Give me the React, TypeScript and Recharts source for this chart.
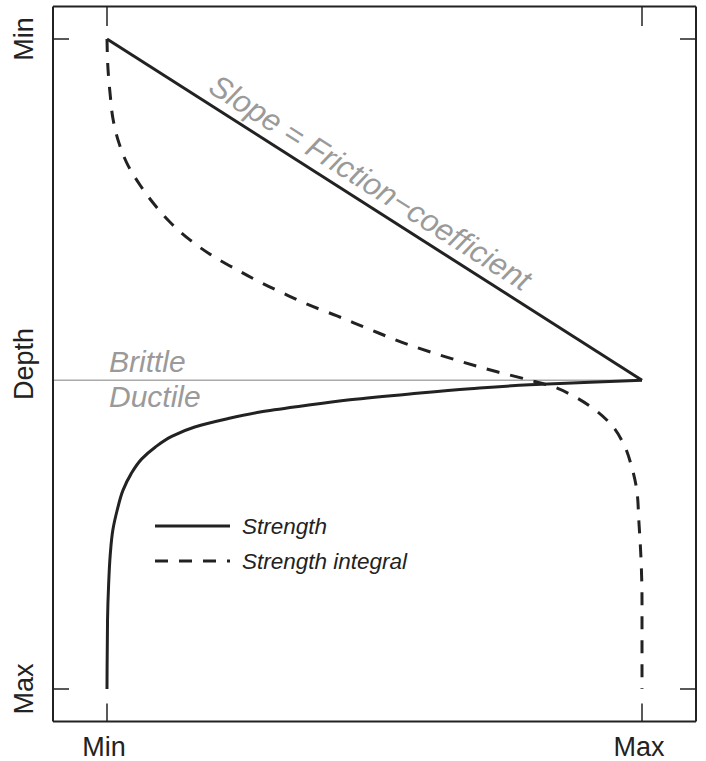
import React from "react";
import {
  LineChart,
  Line,
  XAxis,
  YAxis,
  ReferenceLine,
  ReferenceDot,
  Legend,
} from "recharts";

// ---- data (x: strength 0=Min..1=Max, y: depth 0=Min..1=Max) ----
const BD_DEPTH = 0.525; // brittle–ductile transition depth

const brittleStrength = [
  { x: 0, y: 0 },
  { x: 1, y: 0.525 },
];

const ductileStrength = [
  { x: 1, y: 0.525 },
  { x: 0.903, y: 0.528 },
  { x: 0.79, y: 0.532 },
  { x: 0.679, y: 0.538 },
  { x: 0.566, y: 0.546 },
  { x: 0.454, y: 0.555 },
  { x: 0.361, y: 0.565 },
  { x: 0.286, y: 0.574 },
  { x: 0.221, y: 0.585 },
  { x: 0.164, y: 0.597 },
  { x: 0.122, y: 0.611 },
  { x: 0.09, y: 0.628 },
  { x: 0.065, y: 0.646 },
  { x: 0.045, y: 0.669 },
  { x: 0.03, y: 0.694 },
  { x: 0.019, y: 0.725 },
  { x: 0.011, y: 0.755 },
  { x: 0.006, y: 0.794 },
  { x: 0.003, y: 0.84 },
  { x: 0.001, y: 0.894 },
  { x: 0, y: 1 },
];

const strengthIntegral = [
  { x: 0, y: 0 },
  { x: 0.002, y: 0.048 },
  { x: 0.006, y: 0.086 },
  { x: 0.011, y: 0.122 },
  { x: 0.022, y: 0.159 },
  { x: 0.039, y: 0.194 },
  { x: 0.062, y: 0.225 },
  { x: 0.086, y: 0.252 },
  { x: 0.118, y: 0.282 },
  { x: 0.155, y: 0.309 },
  { x: 0.198, y: 0.334 },
  { x: 0.243, y: 0.355 },
  { x: 0.286, y: 0.374 },
  { x: 0.329, y: 0.391 },
  { x: 0.374, y: 0.408 },
  { x: 0.43, y: 0.426 },
  { x: 0.486, y: 0.445 },
  { x: 0.566, y: 0.471 },
  { x: 0.641, y: 0.491 },
  { x: 0.729, y: 0.512 },
  { x: 0.791, y: 0.525 },
  { x: 0.834, y: 0.535 },
  { x: 0.871, y: 0.549 },
  { x: 0.908, y: 0.568 },
  { x: 0.94, y: 0.591 },
  { x: 0.965, y: 0.622 },
  { x: 0.981, y: 0.659 },
  { x: 0.991, y: 0.699 },
  { x: 0.994, y: 0.74 },
  { x: 0.998, y: 0.797 },
  { x: 1, y: 0.863 },
  { x: 1, y: 1 },
];

const xTicks = [0, 1];
const xTickLabels = ["Min", "Max"];
const yTicks = [0, 0.5, 1];
const yTickLabels = ["Min", "Depth", "Max"];

const seriesNames = ["Strength", "Strength integral"];
const slopeLabel = "Slope = Friction\u2212coefficient";
const brittleLabel = "Brittle";
const ductileLabel = "Ductile";

// ---- styling ----
const FONT = '"Liberation Sans", Arial, Helvetica, sans-serif';
const INK = "#222";
const GREY = "#9a9a9a";
const X_DOMAIN = [-0.10093, 1.10093];
const Y_DOMAIN = [-0.05, 1.05];
const DASH = "13 11";

const BottomTick = (props: any) => {
  const { x, y, payload } = props;
  const i = xTicks.indexOf(payload.value);
  return (
    <g>
      <line x1={x} y1={y} x2={x} y2={y - 18} stroke={INK} strokeWidth={1.5} />
      <text x={x - 3} y={y + 34} textAnchor="middle" fontSize={27} fill={INK} fontFamily={FONT}>
        {xTickLabels[i]}
      </text>
    </g>
  );
};

const TopTick = (props: any) => {
  const { x, y } = props;
  return <line x1={x} y1={y} x2={x} y2={y + 19.5} stroke={INK} strokeWidth={1.5} />;
};

const LeftTick = (props: any) => {
  const { x, y, payload } = props;
  const i = yTicks.indexOf(payload.value);
  const showLine = payload.value === 0 || payload.value === 1;
  return (
    <g>
      {showLine && <line x1={x} y1={y} x2={x + 16} y2={y} stroke={INK} strokeWidth={1.5} />}
      <text
        transform={`translate(${x - 20.5},${y}) rotate(-90)`}
        textAnchor="middle"
        fontSize={27}
        fill={INK}
        fontFamily={FONT}
      >
        {yTickLabels[i]}
      </text>
    </g>
  );
};

const RightTick = (props: any) => {
  const { x, y } = props;
  return <line x1={x} y1={y} x2={x - 16} y2={y} stroke={INK} strokeWidth={1.5} />;
};

const BDLabel = (props: any) => {
  const { viewBox } = props;
  const x = viewBox.x + 56;
  const y = viewBox.y;
  return (
    <g fontFamily={FONT} fontStyle="italic" fontSize={30} fill={GREY}>
      <text x={x} y={y - 8}>{brittleLabel}</text>
      <text x={x} y={y + 27}>{ductileLabel}</text>
    </g>
  );
};

const SlopeLabel = (props: any) => {
  const { viewBox } = props;
  const cx = viewBox.x + viewBox.width / 2;
  const cy = viewBox.y + viewBox.height / 2;
  const ang = 32.43;
  const r = (ang * Math.PI) / 180;
  const dx = Math.cos(r);
  const dy = Math.sin(r);
  // shift back along the line and up perpendicular to it
  const bx = cx - 18 * dx + 10 * dy;
  const by = cy - 18 * dy - 10 * dx;
  return (
    <text
      transform={`translate(${bx},${by}) rotate(${ang})`}
      textAnchor="middle"
      fontFamily={FONT}
      fontStyle="italic"
      fontSize={31}
      fill={GREY}
    >
      {slopeLabel}
    </text>
  );
};

const LegendContent = (props: any) => {
  const items = (props.payload || []).filter((p: any) => p.type !== "none");
  return (
    <svg width={320} height={80} style={{ display: "block" }}>
      {items.map((item: any, i: number) => {
        const ly = 18 + i * 35;
        return (
          <g key={i}>
            <line
              x1={5}
              y1={ly}
              x2={80}
              y2={ly}
              stroke={INK}
              strokeWidth={3}
              strokeDasharray={item.payload && item.payload.strokeDasharray}
            />
            <text x={92} y={ly + 8} fontFamily={FONT} fontStyle="italic" fontSize={22.5} fill={INK}>
              {item.value}
            </text>
          </g>
        );
      })}
    </svg>
  );
};

export default function App() {
  return (
    <div style={{ position: "absolute", left: 0, top: 0, width: 706, height: 761, background: "#fff" }}>
      <LineChart width={706} height={761} margin={{ top: 0, right: 0, bottom: 0, left: 0 }}>
        <XAxis
          xAxisId="b"
          dataKey="x"
          type="number"
          orientation="bottom"
          domain={X_DOMAIN}
          allowDataOverflow
          ticks={xTicks}
          tickSize={0}
          tickMargin={0}
          tickLine={false}
          tick={<BottomTick />}
          height={39.5}
          axisLine={{ stroke: INK, strokeWidth: 2 }}
        />
        <XAxis
          xAxisId="t"
          dataKey="x"
          type="number"
          orientation="top"
          domain={X_DOMAIN}
          allowDataOverflow
          ticks={xTicks}
          tickSize={0}
          tickMargin={0}
          tickLine={false}
          tick={<TopTick />}
          height={6.5}
          axisLine={{ stroke: INK, strokeWidth: 2 }}
        />
        <YAxis
          yAxisId="l"
          dataKey="y"
          type="number"
          orientation="left"
          domain={Y_DOMAIN}
          reversed
          allowDataOverflow
          ticks={yTicks}
          tickSize={0}
          tickMargin={0}
          tickLine={false}
          tick={<LeftTick />}
          width={53}
          axisLine={{ stroke: INK, strokeWidth: 2 }}
        />
        <YAxis
          yAxisId="r"
          dataKey="y"
          type="number"
          orientation="right"
          domain={Y_DOMAIN}
          reversed
          allowDataOverflow
          ticks={[0, 1]}
          tickSize={0}
          tickMargin={0}
          tickLine={false}
          tick={<RightTick />}
          width={10}
          axisLine={{ stroke: INK, strokeWidth: 2 }}
        />
        <ReferenceLine
          xAxisId="b"
          yAxisId="l"
          segment={[
            { x: X_DOMAIN[0], y: BD_DEPTH },
            { x: 1, y: BD_DEPTH },
          ]}
          stroke="#aaa"
          strokeWidth={1.3}
          label={<BDLabel />}
        />
        <Line
          xAxisId="b"
          yAxisId="l"
          data={brittleStrength}
          dataKey="y"
          name={seriesNames[0]}
          type="linear"
          stroke={INK}
          strokeWidth={3}
          dot={false}
          activeDot={false}
          isAnimationActive={false}
        />
        <Line
          xAxisId="b"
          yAxisId="l"
          data={ductileStrength}
          dataKey="y"
          name="ductile"
          legendType="none"
          type="monotoneY"
          stroke={INK}
          strokeWidth={3}
          dot={false}
          activeDot={false}
          isAnimationActive={false}
        />
        <Line
          xAxisId="b"
          yAxisId="l"
          data={strengthIntegral}
          dataKey="y"
          name={seriesNames[1]}
          type="monotoneY"
          stroke={INK}
          strokeWidth={3}
          strokeDasharray={DASH}
          dot={false}
          activeDot={false}
          isAnimationActive={false}
        />
        <ReferenceDot
          xAxisId="b"
          yAxisId="l"
          x={0.5}
          y={BD_DEPTH / 2}
          r={1}
          fill="none"
          stroke="none"
          label={<SlopeLabel />}
        />
        <Legend
          layout="vertical"
          align="center"
          verticalAlign="middle"
          content={<LegendContent />}
          wrapperStyle={{ left: 150, top: 508, width: 320, height: 80 }}
        />
      </LineChart>
    </div>
  );
}
